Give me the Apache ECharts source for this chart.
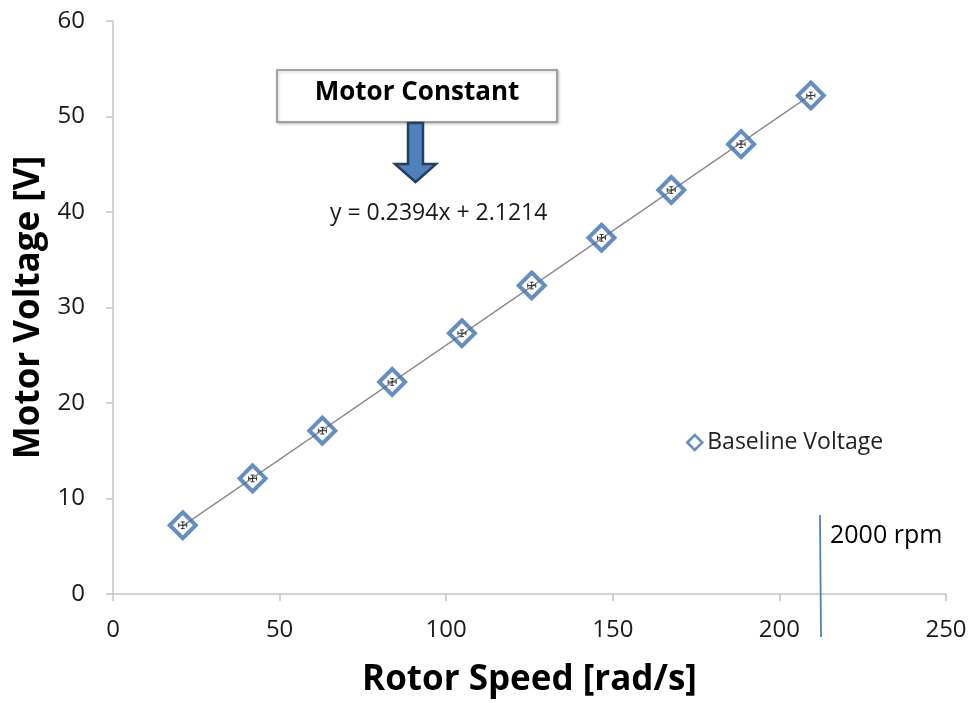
<!DOCTYPE html>
<html>
<head>
<meta charset="utf-8">
<script src="https://cdn.jsdelivr.net/npm/echarts@6/dist/echarts.min.js"></script>
<style>
  html, body { margin: 0; padding: 0; background: #fff; }
  #chart { width: 971px; height: 703px; }
</style>
</head>
<body>
<div id="chart"></div>
<script>
// Rotor speed steps (rad/s) and measured motor voltage (V)
const rotorSpeed = [20.94, 41.89, 62.83, 83.78, 104.72, 125.66, 146.61, 167.55, 188.50, 209.44];
const motorVoltage = [7.2, 12.1, 17.1, 22.2, 27.3, 32.3, 37.3, 42.3, 47.1, 52.2];
const speedErr = [1.2, 1.2, 1.2, 1.2, 1.2, 1.2, 1.2, 1.2, 1.2, 1.2];
const voltageErr = [0.35, 0.35, 0.35, 0.35, 0.35, 0.35, 0.35, 0.35, 0.35, 0.35];
// Linear fit reported on the chart
const fitSlope = 0.2394;
const fitIntercept = 2.1214;
const xTicks = [0, 50, 100, 150, 200, 250];
const yTicks = [0, 10, 20, 30, 40, 50, 60];

const FONT = '"Open Sans", "Liberation Sans", sans-serif';
const BLUE = '#3d70b2';
const AXIS_GREY = '#c4c4c4';

const points = rotorSpeed.map((x, i) => [x, motorVoltage[i]]);
const errData = rotorSpeed.map((x, i) => [x, motorVoltage[i], speedErr[i], voltageErr[i]]);
const xFirst = rotorSpeed[0], xLast = rotorSpeed[rotorSpeed.length - 1];
const trend = [[xFirst, fitSlope * xFirst + fitIntercept], [xLast, fitSlope * xLast + fitIntercept]];

const chart = echarts.init(document.getElementById('chart'), null, { renderer: 'canvas' });

chart.setOption({
  backgroundColor: '#ffffff',
  animation: false,
  grid: { left: 113, right: 25, top: 21, bottom: 108 },
  xAxis: {
    type: 'value',
    min: xTicks[0], max: xTicks[xTicks.length - 1], interval: 50,
    name: 'Rotor Speed [rad/s]',
    nameLocation: 'middle', nameGap: 69,
    nameTextStyle: { fontFamily: FONT, fontWeight: 'bold', fontSize: 35, color: '#000' },
    axisLine: { lineStyle: { color: AXIS_GREY, width: 1.5 } },
    axisTick: { show: true, length: 7, lineStyle: { color: AXIS_GREY, width: 1.5 } },
    axisLabel: { fontFamily: FONT, fontSize: 24, color: '#1a1a1a', margin: 24 },
    splitLine: { show: false }
  },
  yAxis: {
    type: 'value',
    min: yTicks[0], max: yTicks[yTicks.length - 1], interval: 10,
    name: 'Motor Voltage [V]',
    nameLocation: 'middle', nameGap: 64, nameRotate: 90,
    nameTextStyle: { fontFamily: FONT, fontWeight: 'bold', fontSize: 35, color: '#000' },
    axisLine: { show: true, lineStyle: { color: AXIS_GREY, width: 1.5 } },
    axisTick: { show: true, length: 7, lineStyle: { color: AXIS_GREY, width: 1.5 } },
    axisLabel: { fontFamily: FONT, fontSize: 24, color: '#1a1a1a', margin: 28 },
    splitLine: { show: false }
  },
  legend: {
    left: 681, top: 426,
    itemWidth: 15, itemHeight: 15, itemGap: 6,
    textStyle: { fontFamily: FONT, fontSize: 23, color: '#222' },
    data: [{ name: 'Baseline Voltage', icon: 'diamond', itemStyle: { color: '#fff', borderColor: BLUE, borderWidth: 2.5 } }]
  },
  series: [
    {
      name: 'Trendline',
      type: 'line',
      data: trend,
      symbol: 'none',
      lineStyle: { color: '#8a8a8a', width: 1.3 },
      silent: true,
      z: 1
    },
    {
      name: 'Baseline Voltage',
      type: 'scatter',
      data: points,
      symbol: 'diamond',
      symbolSize: 26,
      itemStyle: { color: 'rgba(255,255,255,0)', borderColor: BLUE, borderWidth: 4 },
      z: 3
    },
    {
      name: 'Error bars',
      type: 'custom',
      data: errData,
      z: 4,
      renderItem: function (params, api) {
        const x = api.value(0), y = api.value(1), dx = api.value(2), dy = api.value(3);
        const l = api.coord([x - dx, y]), r = api.coord([x + dx, y]);
        const t = api.coord([x, y + dy]), b = api.coord([x, y - dy]);
        const style = { stroke: '#333', lineWidth: 1 };
        const cap = 2;
        return {
          type: 'group',
          children: [
            { type: 'line', shape: { x1: l[0], y1: l[1], x2: r[0], y2: r[1] }, style },
            { type: 'line', shape: { x1: l[0], y1: l[1] - cap, x2: l[0], y2: l[1] + cap }, style },
            { type: 'line', shape: { x1: r[0], y1: r[1] - cap, x2: r[0], y2: r[1] + cap }, style },
            { type: 'line', shape: { x1: t[0], y1: t[1], x2: b[0], y2: b[1] }, style },
            { type: 'line', shape: { x1: t[0] - cap, y1: t[1], x2: t[0] + cap, y2: t[1] }, style },
            { type: 'line', shape: { x1: b[0] - cap, y1: b[1], x2: b[0] + cap, y2: b[1] }, style }
          ]
        };
      }
    }
  ],
  graphic: [
    // Callout box
    {
      type: 'rect', x: 277, y: 70, z: 10,
      shape: { width: 280, height: 52 },
      style: { fill: '#fff', stroke: '#8c8c8c', lineWidth: 1.5,
               shadowBlur: 3, shadowColor: 'rgba(0,0,0,0.25)', shadowOffsetX: 1, shadowOffsetY: 1 }
    },
    {
      type: 'text', x: 417, y: 93, z: 11,
      style: { text: 'Motor Constant', fontFamily: FONT, fontWeight: 'bold', fontSize: 26,
               fill: '#000', align: 'center', verticalAlign: 'middle' }
    },
    // Down arrow
    {
      type: 'polygon', z: 10,
      shape: { points: [[408, 123], [423, 123], [423, 164], [436, 164], [415.5, 182], [395, 164], [408, 164]] },
      style: { fill: '#4f81bd', stroke: '#243f60', lineWidth: 2.5 }
    },
    // Fit equation
    {
      type: 'text', x: 330, y: 213, z: 10,
      style: { text: 'y = 0.2394x + 2.1214', fontFamily: FONT, fontSize: 23,
               fill: '#1a1a1a', verticalAlign: 'middle' }
    },
    // 2000 rpm marker
    {
      type: 'line', z: 10,
      shape: { x1: 820, y1: 515, x2: 821, y2: 637 },
      style: { stroke: '#4f81bd', lineWidth: 1.8 }
    },
    {
      type: 'text', x: 830, y: 536, z: 10,
      style: { text: '2000 rpm', fontFamily: FONT, fontSize: 25, fill: '#000', verticalAlign: 'middle' }
    }
  ]
});
</script>
</body>
</html>
